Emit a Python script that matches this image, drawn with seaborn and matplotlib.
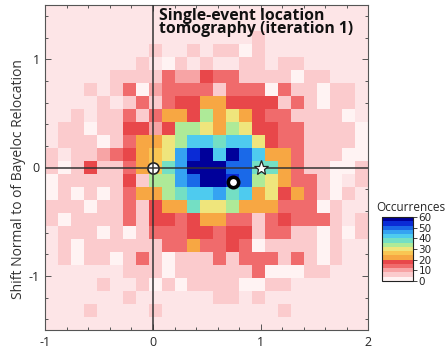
import numpy as np
import pandas as pd
import matplotlib
matplotlib.use("Agg")
import matplotlib.pyplot as plt
from matplotlib.colors import ListedColormap
from matplotlib.ticker import MultipleLocator
import seaborn as sns

# Bin grid: 25 x 25 cells of 0.12 over the plotted extent
x_range = (-1.0, 2.0)
y_range = (-1.5, 1.5)
n_bins = 25

# Occurrence counts per cell, rows from the top (y = 1.5) down to y = -1.5,
# columns from x = -1 to x = 2
counts = [
    [0,0,0,0,0,0,0,0,0,0,0,0,0,0,0,0,0,0,0,0,0,0,0,0,0],
    [0,0,0,0,0,0,0,0,0,0,0,0,0,0,0,0,0,0,0,0,0,0,0,0,0],
    [0,0,0,0,0,0,0,0,0,0,0,0,0,0,0,0,6,0,0,0,0,0,0,0,0],
    [0,0,0,0,0,0,0,0,6,0,0,6,0,6,6,2,6,0,0,0,0,0,0,0,0],
    [0,0,0,0,0,0,0,6,0,2,6,0,6,0,0,6,6,0,6,6,0,0,0,0,0],
    [0,0,0,0,0,6,6,6,6,14,10,10,18,14,14,6,6,6,6,2,6,6,0,0,0],
    [0,0,0,6,0,6,14,2,10,14,14,14,14,6,14,14,14,2,14,6,6,2,6,6,0],
    [0,0,0,0,6,0,6,14,6,14,18,18,22,22,18,18,18,18,6,14,6,2,6,6,0],
    [0,0,6,0,6,6,14,6,14,22,22,18,34,22,30,22,18,14,14,6,6,6,6,2,0],
    [0,6,6,2,6,6,18,18,10,18,34,34,30,22,34,30,18,18,14,14,6,6,6,6,2],
    [0,6,6,6,2,6,14,22,22,30,34,42,42,38,42,42,30,18,14,14,6,6,6,6,2],
    [6,0,6,6,10,14,18,22,26,30,46,54,58,42,58,50,42,22,22,14,6,6,6,2,2],
    [6,2,6,18,6,6,14,22,26,38,46,58,58,58,50,50,38,38,22,14,6,6,2,2,6],
    [2,6,6,6,6,6,18,6,34,34,46,50,58,58,54,50,34,30,22,14,14,6,2,0,6],
    [2,6,2,6,2,6,14,22,22,34,38,42,42,46,38,42,22,30,18,22,14,6,2,6,0],
    [6,6,6,2,6,6,14,6,18,22,22,38,30,30,34,22,22,22,14,14,14,2,6,0,0],
    [6,2,6,6,6,6,14,6,18,18,14,18,22,22,14,14,6,14,18,14,14,14,6,0,6],
    [0,6,6,6,2,6,2,6,14,14,14,18,18,14,18,18,6,14,14,6,6,2,6,2,6],
    [0,6,2,6,6,6,6,6,6,14,14,22,14,14,18,14,2,6,6,6,6,2,6,0,0],
    [0,6,2,6,6,2,6,14,6,2,6,6,6,14,6,14,14,14,6,14,6,2,6,0,0],
    [0,0,0,0,0,0,6,6,6,2,6,6,6,6,6,6,14,2,2,2,6,6,0,0,0],
    [0,0,0,0,6,0,0,6,2,6,2,6,6,6,6,2,2,6,6,0,0,0,0,0,0],
    [0,0,0,0,0,0,6,0,0,0,0,0,0,6,6,0,6,0,0,0,0,0,0,0,0],
    [0,0,0,6,0,0,0,0,6,0,0,0,0,0,0,0,0,0,6,0,0,0,0,0,0],
    [0,0,0,0,0,0,0,0,0,0,0,0,0,0,0,0,0,0,0,0,0,0,0,0,0],
]

# Reference locations marked on the map
origin_pt = (0.0, 0.0)
star_pt = (1.0, 0.0)
ring_pt = (0.74, -0.13)

x_ticks = [-1, 0, 1, 2]
y_ticks = [-1, 0, 1]
cbar_ticks = [0, 10, 20, 30, 40, 50, 60]
count_max = 60

# Discrete palette, 4 occurrences per band, low (pale pink) to high (navy)
band_colors = [
    "#fff3f3", "#fbcbcd", "#f7a4a5", "#f06b6c", "#e8474a",
    "#f7a743", "#f9c653", "#efe57c", "#aeea98", "#74dfc4",
    "#4ecbef", "#35a3f2", "#1a69e8", "#0a2bd6", "#00009a",
]

sns.set_style("ticks")
plt.rcParams["font.family"] = ["Open Sans", "DejaVu Sans"]
plt.rcParams["axes.unicode_minus"] = False

step = (x_range[1] - x_range[0]) / n_bins
xc = x_range[0] + step * (np.arange(n_bins) + 0.5)
yc = y_range[1] - step * (np.arange(n_bins) + 0.5)
X, Y = np.meshgrid(xc, yc)
grid = np.array(counts)
df = pd.DataFrame({"x": X.ravel(), "y": Y.ravel(), "n": grid.ravel()})
df = df[df["n"] > 0]

cmap = ListedColormap(band_colors)

fig = plt.figure(figsize=(4.48, 3.5), dpi=100)
ax = fig.add_axes([45.3 / 448, 20 / 350, 323 / 448, 325 / 350])
cax = fig.add_axes([382 / 448, 69 / 350, 31 / 448, 64 / 350])
ax.set_facecolor("#fde5e7")

sns.histplot(
    data=df, x="x", y="y", weights="n",
    bins=n_bins, binrange=(x_range, y_range),
    cmap=cmap, vmax=count_max,
    cbar=True, cbar_ax=cax, cbar_kws={"ticks": cbar_ticks},
    ax=ax,
)

# Cross-hair through the reference location
line_kw = dict(color="#333333", lw=1.1, zorder=4)
ax.axvline(0, **line_kw)
ax.axhline(0, **line_kw)

ax.plot(*origin_pt, marker="o", ms=8, mfc="white", mec="#222222", mew=1.2, zorder=3)
ax.plot(*star_pt, marker="*", ms=11, mfc="white", mec="#222222", mew=0.9, zorder=5)
ax.plot(*ring_pt, marker="o", ms=7.5, mfc="white", mec="black", mew=2.6, zorder=5)

ax.set_xlim(*x_range)
ax.set_ylim(*y_range)
ax.set_xticks(x_ticks)
ax.set_yticks(y_ticks)
ax.set_xticklabels([str(t) for t in x_ticks])
ax.set_yticklabels([str(t) for t in y_ticks])
ax.xaxis.set_minor_locator(MultipleLocator(0.2))
ax.yaxis.set_minor_locator(MultipleLocator(0.2))
ax.tick_params(which="both", direction="in", top=True, right=True,
               color="#555555", width=0.7, labelsize=9, pad=4)
ax.tick_params(which="major", length=4)
ax.tick_params(which="minor", length=2.5)
for s in ax.spines.values():
    s.set_color("#555555")
    s.set_linewidth(0.8)

ax.set_xlabel("")
ax.set_ylabel("Shift Normal to of Bayeloc Relocation", fontsize=10,
              color="#333333")
ax.yaxis.set_label_coords(-0.06, 0.465)

ax.text(0.055, 1.472, "Single-event location\ntomography (iteration 1)",
        fontsize=11.3, fontweight="bold", va="top", ha="left",
        linespacing=0.75, color="#111111", zorder=6)

fig.text(411 / 448, (350 - 211) / 350, "Occurrences", fontsize=8.5,
         ha="center", va="baseline")
cax.tick_params(length=3, width=0.6, labelsize=7.5, pad=1)
for t in cax.get_yticklabels():
    t.set_family(["Liberation Sans Narrow", "DejaVu Sans"])
for s in cax.spines.values():
    s.set_linewidth(0.8)
    s.set_edgecolor("#222222")

fig.savefig("out.png", dpi=100, facecolor="white")
